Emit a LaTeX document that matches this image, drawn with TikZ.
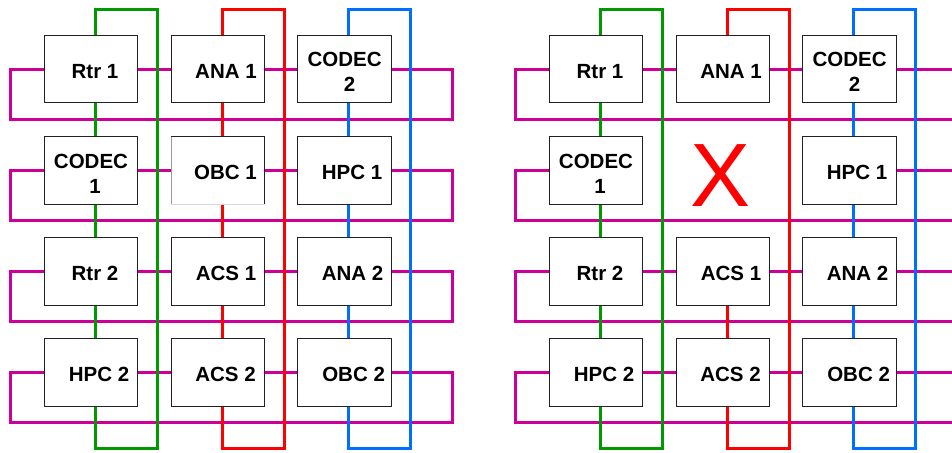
\documentclass[tikz,border=0pt]{standalone}
\usepackage{fontspec}
\setmainfont{Liberation Sans}
\definecolor{mag}{RGB}{204,0,153}
\definecolor{grn}{RGB}{0,153,0}
\definecolor{redl}{RGB}{255,0,0}
\definecolor{blu}{RGB}{0,110,255}
\definecolor{edge}{RGB}{34,34,34}
\pgfdeclarelayer{wires}
\pgfdeclarelayer{cols}
\pgfsetlayers{wires,cols,main}
\newcommand\colloop[3]{%
  \begin{pgfonlayer}{cols}
  \draw[wire,#1] ([xshift=4pt]#2.north) -- ([xshift=4pt]#2.north |- vT) -| ([xshift=66pt]#3.south |- vB) -| ([xshift=4pt]#3.south);
  \end{pgfonlayer}}
\newcommand\colseg[3]{%
  \begin{pgfonlayer}{cols}
  \draw[wire,#1] ([xshift=4pt]#2.south) -- ([xshift=4pt]#3.north);
  \end{pgfonlayer}}
\newcommand\rowloop[4]{%
  \begin{pgfonlayer}{wires}
  \draw[wire,mag] (#1.west) -- (#1.west -| #3) -- ++(0,50) -| (#2.east -| #4) -- (#2.east);
  \end{pgfonlayer}}
\newcommand\rowseg[2]{%
  \begin{pgfonlayer}{wires}
  \draw[wire,mag] (#1.east) -- (#2.west);
  \end{pgfonlayer}}
\newcommand\tallstrut{\rule{0pt}{20.5pt}}
\begin{document}
\begin{tikzpicture}[x=1pt,y=-1pt,
  box/.style={draw=edge, line width=1.1pt, fill=white, minimum width=93.4pt,
    minimum height=67.5pt, inner sep=0pt, outer sep=0pt, align=center,
    font=\fontsize{20.5pt}{24.7pt}\selectfont\bfseries},
  one/.style={text height=18.3pt, text depth=0pt},
  wire/.style={line width=3pt, line join=miter}]
\useasboundingbox (0,0) rectangle (952,452);
\begin{pgfonlayer}{wires}
\fill[white] (0,0) rectangle (952,452);
\end{pgfonlayer}
\coordinate (vT) at (0,9.5);
\coordinate (vB) at (0,448);
\coordinate (mL) at (10,0);
\coordinate (mR) at (452.5,0);
\coordinate (mL2) at (515,0);
\coordinate (mR2) at (957.5,0);

% ---------------- left panel ----------------
\node[box,one] (L11) at (91,69) {\hspace*{8pt}Rtr 1};
\node[box,one] (L12) at (218,69) {\hspace*{16pt}ANA 1};
\node[box] (L13) at (344.6,69) {\tallstrut CODEC\\\hspace*{10pt}2};
\node[box] (L21) at (91,170.5) {\tallstrut CODEC\\\hspace*{8pt}1};
\node[box,one,draw=none] (L22) at (218,170.5) {\hspace*{15pt}OBC 1};
\node[box,one] (L23) at (344.6,170.5) {\hspace*{15pt}HPC 1};
\node[box,one] (L31) at (91,271.6) {\hspace*{8pt}Rtr 2};
\node[box,one] (L32) at (218,271.6) {\hspace*{16pt}ACS 1};
\node[box,one] (L33) at (344.6,271.6) {\hspace*{16pt}ANA 2};
\node[box,one] (L41) at (91,372.6) {\hspace*{16pt}HPC 2};
\node[box,one] (L42) at (218,372.6) {\hspace*{15pt}ACS 2};
\node[box,one] (L43) at (344.6,372.6) {\hspace*{18pt}OBC 2};
\draw[edge,line width=1.1pt] (L22.north west) -- (L22.north east) -- (L22.south east);
\draw[black!40,line width=1.1pt] (L22.north west) -- (L22.south west);
\draw[black!15,line width=1.1pt] (L22.south west) -- (L22.south east);

\rowloop{L11}{L13}{mL}{mR}\rowseg{L11}{L12}\rowseg{L12}{L13}
\rowloop{L21}{L23}{mL}{mR}\rowseg{L21}{L22}\rowseg{L22}{L23}
\rowloop{L31}{L33}{mL}{mR}\rowseg{L31}{L32}\rowseg{L32}{L33}
\rowloop{L41}{L43}{mL}{mR}\rowseg{L41}{L42}\rowseg{L42}{L43}

\colloop{grn}{L11}{L41}\colseg{grn}{L11}{L21}\colseg{grn}{L21}{L31}\colseg{grn}{L31}{L41}
\colloop{redl}{L12}{L42}\colseg{redl}{L12}{L22}\colseg{redl}{L22}{L32}\colseg{redl}{L32}{L42}
\colloop{blu}{L13}{L43}\colseg{blu}{L13}{L23}\colseg{blu}{L23}{L33}\colseg{blu}{L33}{L43}

% ---------------- right panel ----------------
\node[box,one] (R11) at (596,69) {\hspace*{8pt}Rtr 1};
\node[box,one] (R12) at (723,69) {\hspace*{16pt}ANA 1};
\node[box] (R13) at (849.6,69) {\tallstrut CODEC\\\hspace*{10pt}2};
\node[box] (R21) at (596,170.5) {\tallstrut CODEC\\\hspace*{8pt}1};
\node[text=redl, font=\fontsize{90pt}{90pt}\selectfont, inner sep=0pt, anchor=base] (Xmark) at (721,206) {X};
\node[box,one] (R23) at (849.6,170.5) {\hspace*{15pt}HPC 1};
\node[box,one] (R31) at (596,271.6) {\hspace*{8pt}Rtr 2};
\node[box,one] (R32) at (723,271.6) {\hspace*{16pt}ACS 1};
\node[box,one] (R33) at (849.6,271.6) {\hspace*{16pt}ANA 2};
\node[box,one] (R41) at (596,372.6) {\hspace*{16pt}HPC 2};
\node[box,one] (R42) at (723,372.6) {\hspace*{15pt}ACS 2};
\node[box,one] (R43) at (849.6,372.6) {\hspace*{18pt}OBC 2};

\rowloop{R11}{R13}{mL2}{mR2}\rowseg{R11}{R12}\rowseg{R12}{R13}
\rowloop{R21}{R23}{mL2}{mR2}
\rowloop{R31}{R33}{mL2}{mR2}\rowseg{R31}{R32}\rowseg{R32}{R33}
\rowloop{R41}{R43}{mL2}{mR2}\rowseg{R41}{R42}\rowseg{R42}{R43}

\colloop{grn}{R11}{R41}\colseg{grn}{R11}{R21}\colseg{grn}{R21}{R31}\colseg{grn}{R31}{R41}
\colloop{redl}{R12}{R42}\colseg{redl}{R32}{R42}
\colloop{blu}{R13}{R43}\colseg{blu}{R13}{R23}\colseg{blu}{R23}{R33}\colseg{blu}{R33}{R43}
\end{tikzpicture}
\end{document}
